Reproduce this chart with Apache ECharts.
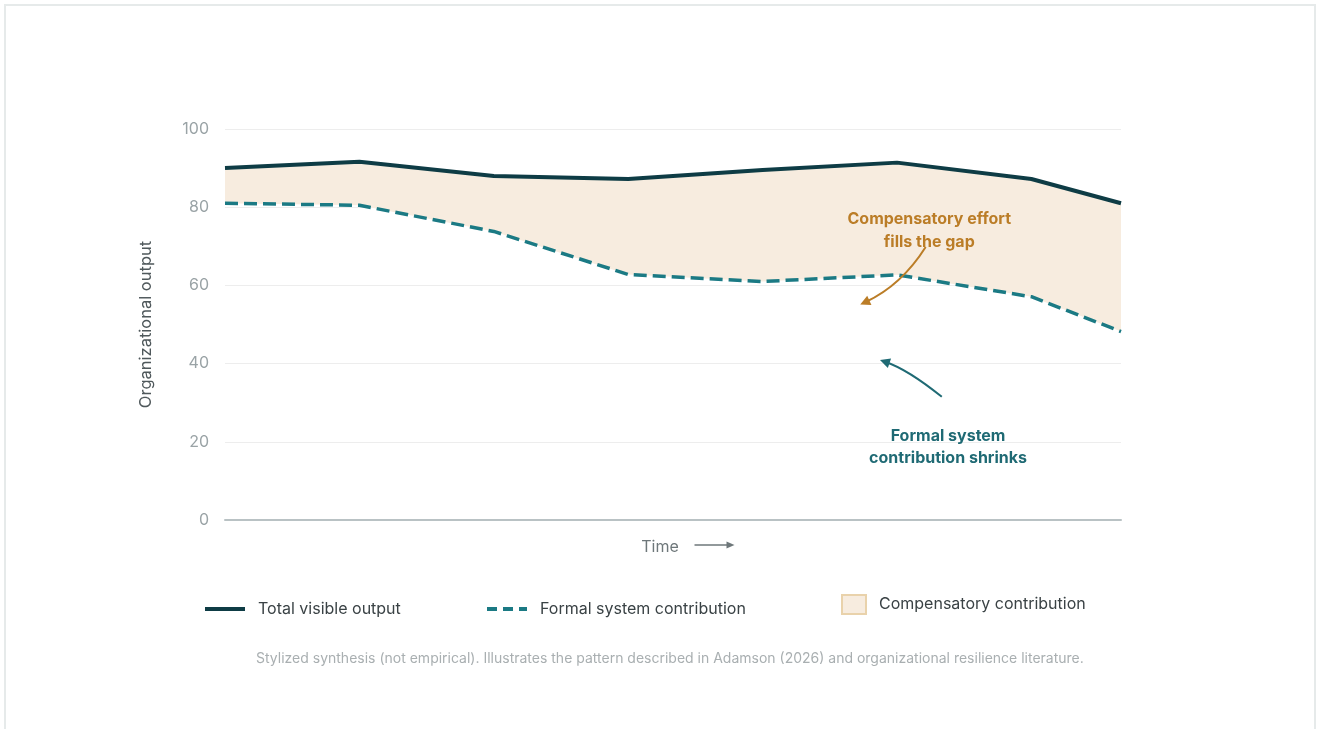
<!DOCTYPE html>
<html>
<head>
<meta charset="utf-8">
<script src="https://cdn.jsdelivr.net/npm/echarts@6/dist/echarts.min.js"></script>
<style>
	html,body{margin:0;padding:0;background:#fff;}
	#frame{position:absolute;left:4px;top:4px;width:1312px;height:740px;border:2px solid #e6eaea;box-sizing:border-box;}
	#main{position:absolute;left:0;top:0;width:1317px;height:729px;}
</style>
</head>
<body>
<div id="frame"></div>
<div id="main"></div>
<script>
// time steps (position along x)
var timeSteps = [0, 1.5, 3, 4.5, 6, 7.5, 9, 10];
var totalOutput = [90, 91.6, 88, 87.2, 89.5, 91.4, 87.2, 81];
var formalSystem = [81, 80.5, 73.8, 62.8, 61, 62.7, 57.1, 48.2];
var yTicks = [0, 20, 40, 60, 80, 100];

var seriesNames = ['Total visible output', 'Formal system contribution', 'Compensatory contribution'];

(function(){
	var font = 'Inter, "Liberation Sans", sans-serif';
	var myChart = echarts.init(document.getElementById('main'));

	function pairs(vals){
		return timeSteps.map(function(t, i){ return [t, vals[i]]; });
	}

	var legendText = { fontSize: 16, color: '#3a4245', fontFamily: font, padding: [0, 0, 0, 8] };

	var option = {
		animation: false,
		textStyle: { fontFamily: font },
		grid: { left: 225, right: 196, top: 129, bottom: 209 },
		title: {
			text: 'Stylized synthesis (not empirical). Illustrates the pattern described in Adamson (2026) and organizational resilience literature.',
			left: 251, top: 647,
			textStyle: { fontSize: 14, fontWeight: 'normal', color: '#a9afb1', fontFamily: font }
		},
		legend: [
			{
				left: 205, top: 601, padding: 0, itemWidth: 40, itemHeight: 4,
				textStyle: legendText,
				data: [{ name: seriesNames[0], icon: 'rect', itemStyle: { color: '#0e3c45' } }]
			},
			{
				left: 485, top: 601, padding: 0, itemWidth: 40, itemHeight: 4,
				textStyle: legendText,
				data: [{ name: seriesNames[1], lineStyle: { type: [10, 6], width: 4, cap: 'butt' } }]
			},
			{
				left: 841, top: 594, padding: 0, itemWidth: 24, itemHeight: 19,
				textStyle: legendText,
				data: [{ name: seriesNames[2], icon: 'rect', itemStyle: { color: '#f7ecdf', borderColor: '#e9d2ab', borderWidth: 2 } }]
			}
		],
		xAxis: {
			type: 'value',
			min: 0, max: 10,
			name: 'Time',
			nameLocation: 'middle',
			nameGap: 19,
			nameTextStyle: { fontSize: 16, color: '#6e777a', padding: [0, 26, 0, 0] },
			axisLine: { show: true, lineStyle: { color: '#b9c2c4', width: 2 } },
			axisTick: { show: false },
			axisLabel: { show: false },
			splitLine: { show: false }
		},
		yAxis: {
			type: 'value',
			min: yTicks[0], max: yTicks[yTicks.length - 1], interval: 20,
			name: 'Organizational output',
			nameLocation: 'middle',
			nameRotate: 90,
			nameGap: 70,
			nameTextStyle: { fontSize: 16.5, color: '#4f585b' },
			axisLine: { show: false },
			axisTick: { show: false },
			axisLabel: { fontSize: 16, color: '#9aa3a6', margin: 16 },
			splitLine: { lineStyle: { color: '#ededed', width: 1 } }
		},
		series: [
			{
				// band between the two lines
				name: seriesNames[2],
				type: 'custom',
				z: 1,
				silent: true,
				itemStyle: { color: '#f7ecdf' },
				data: [[0, 0]],
				renderItem: function(params, api){
					var pts = [];
					for (var i = 0; i < timeSteps.length; i++) pts.push(api.coord([timeSteps[i], totalOutput[i]]));
					for (var j = timeSteps.length - 1; j >= 0; j--) pts.push(api.coord([timeSteps[j], formalSystem[j]]));
					return { type: 'polygon', shape: { points: pts }, style: { fill: '#f7ecdf' } };
				}
			},
			{
				name: seriesNames[0],
				type: 'line',
				z: 3,
				symbol: 'none',
				lineStyle: { color: '#0e3c45', width: 4 },
				itemStyle: { color: '#0e3c45' },
				data: pairs(totalOutput)
			},
			{
				name: seriesNames[1],
				type: 'line',
				z: 3,
				symbol: 'none',
				lineStyle: { color: '#1b7a84', width: 3.5, type: [13, 6] },
				itemStyle: { color: '#1b7a84' },
				data: pairs(formalSystem)
			}
		]
	};
	myChart.setOption(option);

	// annotations, anchored in data space
	function px(p){ return myChart.convertToPixel({ gridIndex: 0 }, p); }
	function arrow(from, ctrl, to, color){
		var a = px(from), c = px(ctrl), b = px(to);
		var dx = b[0] - c[0], dy = b[1] - c[1];
		var len = Math.sqrt(dx*dx + dy*dy);
		var ux = dx / len, uy = dy / len;
		var L = 10, W = 5;
		var base = [b[0] - ux*L, b[1] - uy*L];
		return [
			{ type: 'bezierCurve', z: 10, shape: { x1: a[0], y1: a[1], x2: b[0] - ux*6, y2: b[1] - uy*6, cpx1: c[0], cpy1: c[1] },
			  style: { stroke: color, lineWidth: 2, fill: null } },
			{ type: 'polygon', z: 10, shape: { points: [b, [base[0] - uy*W, base[1] + ux*W], [base[0] + uy*W, base[1] - ux*W]] },
			  style: { fill: color } }
		];
	}
	var orange = '#bb7d27', teal = '#1f6a74';
	var orangeText = px([7.86, 68.2]);
	var tealText = px([8.07, 24.2]);
	var timeArrow = px([5.24, 0]);
	var graphics = [
		{ type: 'text', z: 10, x: orangeText[0], y: orangeText[1],
		  style: { text: 'Compensatory effort\nfills the gap', fill: orange, font: 'bold 16px ' + font, align: 'center', verticalAlign: 'bottom', lineHeight: 23 } },
		{ type: 'text', z: 10, x: tealText[0], y: tealText[1],
		  style: { text: 'Formal system\ncontribution shrinks', fill: teal, font: 'bold 16px ' + font, align: 'center', verticalAlign: 'top', lineHeight: 22 } },
		{ type: 'line', z: 10, shape: { x1: timeArrow[0], y1: timeArrow[1] + 25, x2: timeArrow[0] + 33, y2: timeArrow[1] + 25 },
		  style: { stroke: '#6e777a', lineWidth: 1.5 } },
		{ type: 'polygon', z: 10, shape: { points: [[timeArrow[0] + 40, timeArrow[1] + 25], [timeArrow[0] + 32, timeArrow[1] + 21.5], [timeArrow[0] + 32, timeArrow[1] + 28.5]] },
		  style: { fill: '#6e777a' } }
	];
	graphics = graphics.concat(arrow([7.82, 69.8], [7.55, 60], [7.09, 55.1], orange));
	graphics = graphics.concat(arrow([8.0, 31.5], [7.62, 38.5], [7.31, 40.9], teal));
	myChart.setOption({ graphic: graphics });

	window.addEventListener('resize', function(){
		myChart.resize();
	});
})();
</script>
</body>
</html>
